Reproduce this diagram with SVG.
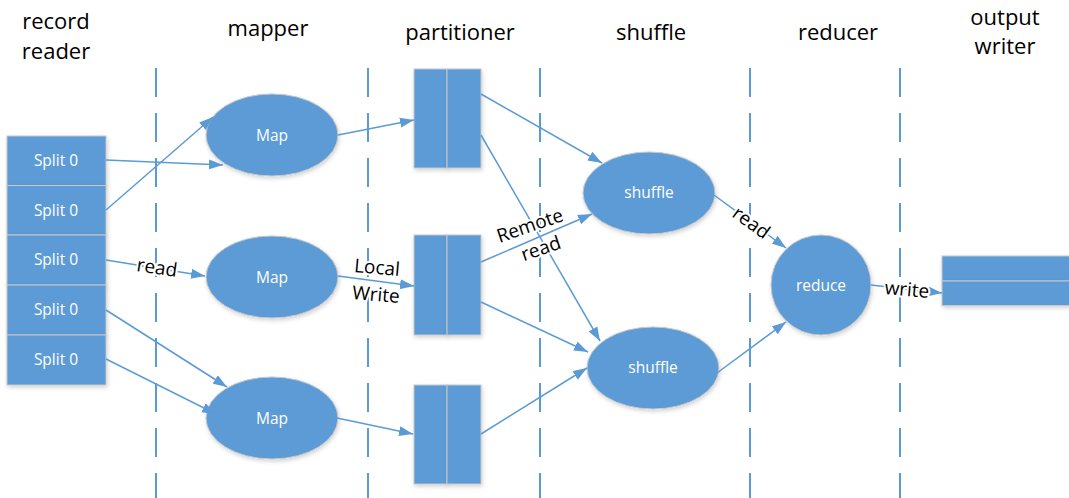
<svg xmlns="http://www.w3.org/2000/svg" width="1069" height="498" viewBox="0 0 1069 498">
  <style>
    .hdr { font-family: "Open Sans", "Liberation Sans", sans-serif; font-size: 22px; fill: #000; text-anchor: middle; }
    .lbl { font-family: "Open Sans", "Liberation Sans", sans-serif; font-size: 19px; fill: #000; text-anchor: middle; stroke: #fff; stroke-width: 4; paint-order: stroke; stroke-linejoin: round; }
    .in { font-family: "Open Sans", "Liberation Sans", sans-serif; font-size: 15.5px; fill: #fff; text-anchor: middle; }
    .shape { fill: #5B9BD5; stroke: #C8C8C8; stroke-width: 1; filter: url(#shadow); }
    .div { stroke: #5B9BD5; stroke-width: 2; stroke-dasharray: 29 16; fill: none; }
    .edge { stroke: #5B9BD5; stroke-width: 1.5; fill: none; marker-end: url(#arrow); }
  </style>
  <defs>
    <filter id="shadow" x="-20%" y="-20%" width="140%" height="150%">
      <feDropShadow dx="1" dy="2" stdDeviation="2" flood-color="#000" flood-opacity="0.18"/>
    </filter>
    <marker id="arrow" markerUnits="userSpaceOnUse" markerWidth="15" markerHeight="11" refX="14" refY="5.5" orient="auto">
      <path d="M0,0.5 L14,5.5 L0,10.5 z" fill="#5B9BD5"/>
    </marker>
  </defs>

  <rect width="1069" height="498" fill="#fff"/>

  <!-- stage headers -->
  <g id="headers">
    <text class="hdr" x="56" y="29">record</text>
    <text class="hdr" x="56" y="59">reader</text>
    <text class="hdr" x="268" y="36">mapper</text>
    <text class="hdr" x="460" y="40">partitioner</text>
    <text class="hdr" x="651" y="40">shuffle</text>
    <text class="hdr" x="838" y="40">reducer</text>
    <text class="hdr" x="1005" y="25">output</text>
    <text class="hdr" x="1005" y="54">writer</text>
  </g>

  <!-- stage separators -->
  <g id="dividers">
    <line class="div" x1="156" y1="68" x2="156" y2="498"/>
    <line class="div" x1="368" y1="68" x2="368" y2="498"/>
    <line class="div" x1="540" y1="68" x2="540" y2="498"/>
    <line class="div" x1="750" y1="68" x2="750" y2="498"/>
    <line class="div" x1="900" y1="68" x2="900" y2="498"/>
  </g>

  <!-- input splits -->
  <g id="splits">
    <rect class="shape" x="7" y="136" width="99" height="49.5"/>
    <rect class="shape" x="7" y="185.5" width="99" height="49.5"/>
    <rect class="shape" x="7" y="235" width="99" height="50"/>
    <rect class="shape" x="7" y="285" width="99" height="50"/>
    <rect class="shape" x="7" y="335" width="99" height="50"/>
    <text class="in" x="56" y="166">Split 0</text>
    <text class="in" x="56" y="216">Split 0</text>
    <text class="in" x="56" y="265">Split 0</text>
    <text class="in" x="56" y="315">Split 0</text>
    <text class="in" x="56" y="365">Split 0</text>
  </g>

  <!-- mappers -->
  <g id="map1">
    <ellipse class="shape" cx="272" cy="135" rx="66" ry="41"/>
    <text class="in" x="272" y="141">Map</text>
  </g>
  <g id="map2">
    <ellipse class="shape" cx="272" cy="277" rx="66" ry="41"/>
    <text class="in" x="272" y="283">Map</text>
  </g>
  <g id="map3">
    <ellipse class="shape" cx="272" cy="418" rx="66" ry="41"/>
    <text class="in" x="272" y="424">Map</text>
  </g>

  <!-- partitions -->
  <g id="part1">
    <rect class="shape" x="414" y="69" width="33" height="99"/>
    <rect class="shape" x="447" y="69" width="34" height="99"/>
  </g>
  <g id="part2">
    <rect class="shape" x="414" y="235" width="33" height="100"/>
    <rect class="shape" x="447" y="235" width="34" height="100"/>
  </g>
  <g id="part3">
    <rect class="shape" x="414" y="385" width="33" height="99"/>
    <rect class="shape" x="447" y="385" width="34" height="99"/>
  </g>

  <!-- shuffles -->
  <g id="shuffle1">
    <ellipse class="shape" cx="649" cy="193" rx="66" ry="41"/>
    <text class="in" x="649" y="198">shuffle</text>
  </g>
  <g id="shuffle2">
    <ellipse class="shape" cx="653" cy="368" rx="66" ry="41"/>
    <text class="in" x="653" y="373">shuffle</text>
  </g>

  <!-- reducer -->
  <g id="reduce">
    <circle class="shape" cx="821" cy="285" r="50"/>
    <text class="in" x="821" y="291">reduce</text>
  </g>

  <!-- output -->
  <g id="output">
    <rect class="shape" x="942" y="256" width="130" height="25"/>
    <rect class="shape" x="942" y="281" width="130" height="24.5"/>
  </g>

  <!-- connectors -->
  <g id="connectors">
    <line class="edge" x1="106" y1="160" x2="223" y2="165"/>
    <line class="edge" x1="106" y1="210" x2="213" y2="117"/>
    <line class="edge" x1="106" y1="260" x2="205" y2="276"/>
    <line class="edge" x1="106" y1="310" x2="227" y2="387"/>
    <line class="edge" x1="106" y1="359" x2="216" y2="414"/>
    <line class="edge" x1="338" y1="135" x2="414" y2="120"/>
    <line class="edge" x1="338" y1="276" x2="414" y2="286"/>
    <line class="edge" x1="337" y1="418" x2="413" y2="434"/>
    <line class="edge" x1="481" y1="94" x2="602" y2="163"/>
    <line class="edge" x1="481" y1="135" x2="600" y2="341"/>
    <line class="edge" x1="481" y1="262" x2="592" y2="214"/>
    <line class="edge" x1="481" y1="302" x2="588" y2="352"/>
    <line class="edge" x1="481" y1="434" x2="587" y2="368"/>
    <line class="edge" x1="714" y1="195" x2="786" y2="248"/>
    <line class="edge" x1="717" y1="373" x2="786" y2="322"/>
    <line class="edge" x1="871" y1="285" x2="942" y2="293"/>
  </g>

  <!-- connector labels -->
  <g id="labels">
    <text class="lbl" transform="rotate(8 157 268)" x="157" y="274">read</text>
    <text class="lbl" transform="rotate(5 377 268)" x="377" y="274">Local</text>
    <text class="lbl" transform="rotate(5 376 295)" x="376" y="301">Write</text>
    <text class="lbl" transform="rotate(-19 530 226)" x="530" y="232">Remote</text>
    <text class="lbl" transform="rotate(-19 541 249)" x="541" y="255">read</text>
    <text class="lbl" transform="rotate(36 751 223)" x="751" y="229">read</text>
    <text class="lbl" transform="rotate(5 907 290)" x="907" y="296">write</text>
  </g>
</svg>
